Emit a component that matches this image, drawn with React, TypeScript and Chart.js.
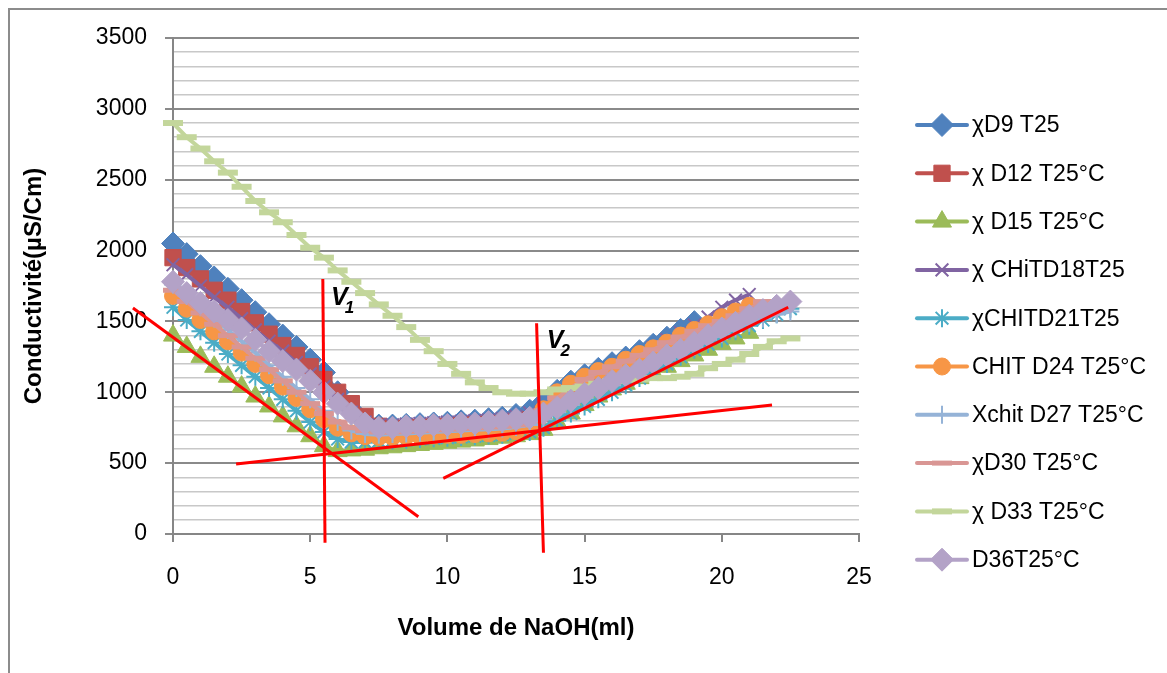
import React, { useEffect, useRef } from 'react';
import { Chart, registerables } from 'chart.js';
import { drawPoint } from 'chart.js/helpers';

Chart.register(...registerables);

const FONT = "'Liberation Sans', Arial, sans-serif";

// Volume of NaOH added (ml)
const volumes = [
  0, 0.5, 1, 1.5, 2, 2.5, 3, 3.5, 4, 4.5, 5, 5.5, 6, 6.5, 7, 7.5, 8, 8.5, 9, 9.5,
  10, 10.5, 11, 11.5, 12, 12.5, 13, 13.5, 14, 14.5, 15, 15.5, 16, 16.5, 17, 17.5,
  18, 18.5, 19, 19.5, 20, 20.5, 21, 21.5, 22, 22.5,
];

const seriesNames = [
  'χD9 T25',
  'χ D12 T25°C',
  'χ D15 T25°C',
  'χ CHiTD18T25',
  'χCHITD21T25',
  'CHIT D24 T25°C',
  'Xchit D27 T25°C',
  'χD30 T25°C',
  'χ D33 T25°C',
  'D36T25°C',
];

// Conductivity (µS/cm) for each sample, one value per volume step
const d9 = [
  2050, 1975, 1890, 1810, 1730, 1650, 1565, 1480, 1400, 1320, 1230, 1140, 1000, 880, 790, 765,
  765, 770, 775, 780, 785, 795, 800, 810, 820, 840, 870, 930, 1010, 1075, 1120, 1165, 1205,
  1245, 1290, 1335, 1385, 1440, 1495,
];
const d12 = [
  1950, 1880, 1800, 1720, 1650, 1570, 1490, 1410, 1330, 1260, 1180, 1090, 1000, 920, 830, 760,
  745, 745, 750, 755, 760, 765, 770, 775, 780, 790, 805, 850, 920, 980, 1030, 1080, 1120, 1160,
  1200, 1250, 1290, 1330, 1380, 1420, 1460, 1500, 1540, 1580,
];
const d15 = [
  1400, 1320, 1250, 1180, 1110, 1040, 970, 900, 830, 760, 690, 620, 585, 590, 595, 605, 612,
  620, 628, 636, 644, 652, 660, 670, 680, 690, 705, 735, 790, 850, 910, 970, 1020, 1060, 1100,
  1140, 1180, 1220, 1260, 1300, 1340, 1380, 1420,
];
const d18 = [
  1900, 1830, 1750, 1670, 1600, 1520, 1440, 1360, 1290, 1210, 1130, 1040, 950, 860, 790, 770,
  770, 775, 780, 785, 790, 795, 800, 805, 815, 830, 855, 905, 965, 1020, 1070, 1120, 1170, 1215,
  1265, 1315, 1370, 1420, 1475, 1530, 1600, 1650, 1690,
];
const d21 = [
  1600, 1510, 1430, 1350, 1270, 1190, 1110, 1030, 950, 870, 790, 720, 670, 650, 650, 655, 660,
  665, 670, 675, 680, 685, 690, 695, 700, 710, 720, 750, 800, 850, 900, 950, 1000, 1050, 1100,
  1150, 1200, 1250, 1300, 1340, 1380, 1430, 1470, 1510, 1550, 1590,
];
const d24 = [
  1680, 1590, 1510, 1430, 1360, 1280, 1200, 1120, 1040, 960, 880, 810, 750, 710, 690, 685, 685,
  690, 690, 695, 700, 700, 705, 710, 715, 725, 760, 880, 1000, 1060, 1110, 1150, 1180, 1230,
  1270, 1310, 1350, 1400, 1440, 1480, 1530, 1570, 1610,
];
const d27 = [
  1760, 1680, 1600, 1520, 1440, 1360, 1280, 1190, 1110, 1030, 950, 870, 790, 730, 705, 700, 705,
  710, 715, 720, 725, 730, 735, 740, 745, 755, 770, 810, 860, 910, 960, 1010, 1050, 1100, 1140,
  1190, 1230, 1280, 1320, 1370, 1410, 1450, 1490, 1520, 1550, 1570,
];
const d30 = [
  1720, 1640, 1560, 1480, 1400, 1320, 1240, 1160, 1080, 1000, 920, 850, 790, 750, 730, 720, 720,
  725, 730, 735, 740, 745, 750, 755, 760, 770, 800, 870, 960, 1030, 1090, 1140, 1180, 1220, 1260,
  1300, 1350, 1390, 1430, 1470, 1500, 1540, 1590, 1640, 1640,
];
const d33 = [
  2900, 2800, 2720, 2630, 2550, 2450, 2350, 2270, 2200, 2110, 2020, 1950, 1860, 1780, 1700, 1620,
  1540, 1460, 1370, 1290, 1200, 1130, 1070, 1030, 1000, 990, 990, 1000, 1020, 1030, 1040, 1060,
  1080, 1090, 1090, 1100, 1100, 1110, 1130, 1170, 1200, 1230, 1270, 1320, 1360, 1380,
];
const d36 = [
  1780, 1700, 1630, 1570, 1510, 1450, 1370, 1290, 1220, 1160, 1080, 1000, 920, 850, 780, 750, 750,
  760, 760, 770, 770, 780, 780, 790, 800, 810, 820, 850, 890, 940, 990, 1030, 1080, 1120, 1160,
  1210, 1260, 1300, 1350, 1400, 1450, 1490, 1540, 1580, 1610, 1640,
];

const seriesValues = [d9, d12, d15, d18, d21, d24, d27, d30, d33, d36];

const colors = [
  '#4F81BD', '#C0504D', '#9BBB59', '#8064A2', '#4BACC6',
  '#F79646', '#95B3D7', '#D99694', '#C3D69B', '#B3A2C7',
];
const markerStyles = [
  'rectRot', 'rect', 'triangle', 'crossRot', 'star', 'circle', 'cross', 'line', 'line', 'rectRot',
];
const markerRadius = [11.5, 11.5, 11, 9, 9, 8.5, 9, 10, 10, 11.5];
const markerBorder = [1, 1, 1, 2, 2, 1, 2, 5, 6, 1];

// Tangent construction lines [x1, y1, x2, y2] in (ml, µS/cm)
const tangentLines = [
  [-1.46, 1595, 8.94, 122],
  [2.3, 494, 21.83, 910],
  [9.85, 393, 22.42, 1600],
  [5.46, 1799, 5.54, -61],
  [13.25, 1487, 13.5, -132],
];

// Equivalence volume labels: subscript, x (ml), baseline (µS/cm)
const equivLabels = [
  { sub: '1', x: 5.76, y: 1616 },
  { sub: '2', x: 13.62, y: 1313 },
];

const tangentPlugin = {
  id: 'tangents',
  afterDatasetsDraw(chart: any) {
    const { ctx, scales } = chart;
    const sx = scales.x;
    const sy = scales.y;
    ctx.save();
    ctx.strokeStyle = '#FF0000';
    ctx.lineWidth = 3;
    ctx.lineCap = 'butt';
    tangentLines.forEach(([x1, y1, x2, y2]) => {
      ctx.beginPath();
      ctx.moveTo(sx.getPixelForValue(x1), sy.getPixelForValue(y1));
      ctx.lineTo(sx.getPixelForValue(x2), sy.getPixelForValue(y2));
      ctx.stroke();
    });
    ctx.fillStyle = '#000';
    ctx.textBaseline = 'alphabetic';
    equivLabels.forEach((l) => {
      const px = sx.getPixelForValue(l.x);
      const py = sy.getPixelForValue(l.y);
      ctx.font = `italic bold 25px ${FONT}`;
      ctx.fillText('V', px, py);
      const w = ctx.measureText('V').width;
      ctx.font = `italic bold 17px ${FONT}`;
      ctx.fillText(l.sub, px + w - 3, py + 8);
    });
    ctx.restore();
  },
};

const legendPlugin = {
  id: 'sideLegend',
  afterDraw(chart: any) {
    const ctx = chart.ctx;
    ctx.save();
    seriesNames.forEach((name, i) => {
      const y = 125 + i * 48.3;
      ctx.strokeStyle = colors[i];
      ctx.lineWidth = 4;
      ctx.lineCap = 'round';
      ctx.beginPath();
      ctx.moveTo(917, y);
      ctx.lineTo(967, y);
      ctx.stroke();
      ctx.lineCap = 'butt';
      ctx.fillStyle = colors[i];
      ctx.lineWidth = markerBorder[i];
      drawPoint(
        ctx,
        { pointStyle: markerStyles[i], radius: markerRadius[i], borderWidth: markerBorder[i], rotation: 0 } as any,
        942,
        y,
      );
      ctx.fillStyle = '#000';
      ctx.font = `23px ${FONT}`;
      ctx.textBaseline = 'middle';
      ctx.textAlign = 'left';
      ctx.fillText(name, 972, y + 1);
    });
    ctx.restore();
  },
};

const isMajor = (v: number) => v % 500 === 0;

export default function App() {
  const canvasRef = useRef<HTMLCanvasElement>(null);

  useEffect(() => {
    if (!canvasRef.current) return;
    const chart = new Chart(canvasRef.current, {
      type: 'scatter',
      data: {
        datasets: seriesValues.map((vals, i) => ({
          label: seriesNames[i],
          data: vals.map((v, k) => ({ x: volumes[k], y: v })),
          showLine: true,
          borderColor: colors[i],
          backgroundColor: colors[i],
          borderWidth: 4,
          pointStyle: markerStyles[i] as any,
          pointRadius: markerRadius[i],
          pointBorderWidth: markerBorder[i],
          pointBorderColor: colors[i],
          pointBackgroundColor: colors[i],
          order: seriesValues.length - 1 - i,
          clip: false as any,
          tension: 0,
        })),
      },
      options: {
        animation: false,
        responsive: false,
        events: [],
        layout: { padding: { top: 38, right: 308, left: 0, bottom: 0 } },
        plugins: { legend: { display: false }, tooltip: { enabled: false } },
        scales: {
          x: {
            type: 'linear',
            min: 0,
            max: 25,
            ticks: { stepSize: 5, padding: 22, color: '#000', font: { family: FONT, size: 23 } },
            grid: { drawOnChartArea: false, drawTicks: true, tickLength: 8, color: '#868686', lineWidth: 2 },
            border: { display: true, color: '#868686', width: 2 },
            title: {
              display: true,
              text: 'Volume de NaOH(ml)',
              color: '#000',
              font: { family: FONT, size: 24, weight: 'bold' },
              padding: { top: 0, bottom: 30 },
            },
            afterFit: (s: any) => {
              s.height = 139;
            },
          },
          y: {
            type: 'linear',
            min: 0,
            max: 3500,
            ticks: {
              stepSize: 100,
              autoSkip: false,
              padding: 18,
              color: '#000',
              font: { family: FONT, size: 23 },
              callback: (v: any) => (isMajor(Number(v)) ? String(v) : ''),
            },
            grid: {
              color: (c: any) => (isMajor(c.tick.value) ? '#8a8a8a' : '#c8c8c8'),
              lineWidth: (c: any) => (isMajor(c.tick.value) ? 2 : 1.5),
              tickColor: (c: any) => (isMajor(c.tick.value) ? '#8a8a8a' : 'rgba(0,0,0,0)'),
              tickLength: 8,
              tickWidth: 2,
            },
            border: { display: true, color: '#868686', width: 2 },
            title: {
              display: true,
              text: 'Conductivité(µS/Cm)',
              color: '#000',
              font: { family: FONT, size: 24, weight: 'bold' },
              padding: { top: 20, bottom: 0 },
            },
            afterFit: (s: any) => {
              s.width = 173;
            },
          },
        },
      } as any,
      plugins: [tangentPlugin, legendPlugin],
    });
    return () => chart.destroy();
  }, []);

  return (
    <div
      style={{
        position: 'fixed',
        left: 0,
        top: 0,
        width: 1167,
        height: 673,
        overflow: 'hidden',
        background: '#fff',
      }}
    >
      <div
        style={{
          position: 'absolute',
          left: 8,
          top: 8,
          width: 1300,
          height: 800,
          border: '2px solid #8c8c8c',
        }}
      />
      <canvas
        ref={canvasRef}
        width={1167}
        height={673}
        style={{ position: 'absolute', left: 0, top: 0, width: 1167, height: 673 }}
      />
    </div>
  );
}
